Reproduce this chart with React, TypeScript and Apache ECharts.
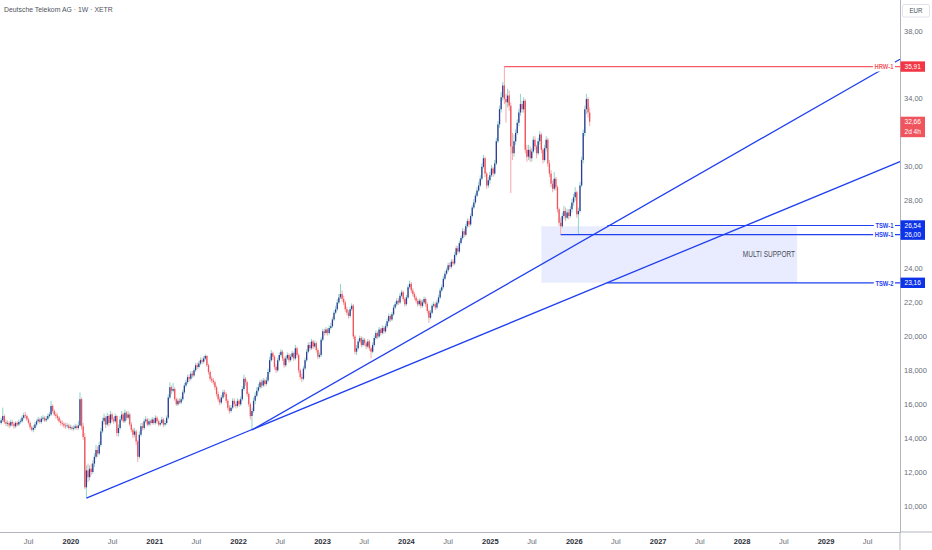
import React, { useEffect, useRef } from "react";
import * as echarts from "echarts";

const TITLE = "Deutsche Telekom AG · 1W · XETR";
const FIRST_WEEK = "2019-03-04";
const FIRST_OPEN = 14.9;

const closes = [
  15.05, 15.3, 14.95, 14.85, 14.9, 14.75, 14.95, 14.85, 14.7, 14.9,
  14.8, 14.95, 15.0, 15.2, 15.35, 15.3, 15.1, 14.9, 14.65, 14.5,
  14.6, 14.8, 15.0, 15.1, 14.95, 15.15, 15.2, 15.05, 15.15, 15.3,
  15.4, 15.9, 15.6, 15.4, 15.3, 15.2, 15.0, 14.9, 14.85, 14.75,
  14.7, 14.75, 14.6, 14.65, 14.55, 14.6, 14.7, 14.6, 14.75, 16.3,
  14.7, 14.07, 11.1, 12.1, 11.7, 12.2, 12.0, 12.5, 12.9, 13.3,
  13.1, 13.6, 14.4, 15.0, 15.2, 14.8, 15.3, 14.9, 15.4, 15.1,
  15.0, 15.3, 14.3, 14.6, 15.1, 15.4, 15.0, 15.5, 15.2, 15.4,
  14.8, 14.5, 14.2, 14.4, 13.8, 12.9, 14.2, 14.7, 14.6, 15.0,
  15.1, 14.8, 15.0, 14.9, 15.1, 14.9, 15.2, 15.0, 14.8, 14.9,
  15.1, 14.8, 14.9, 15.2, 16.4, 17.0, 16.8, 16.9, 16.3, 16.0,
  16.2, 16.1, 16.3, 16.7, 17.1, 17.3, 17.6, 17.5, 17.8, 17.7,
  18.0, 18.3, 18.2, 18.4, 18.6, 18.5, 18.7, 18.85, 18.3, 17.9,
  17.5, 17.4, 17.3, 17.0, 16.6, 16.3, 16.1, 16.4, 16.7, 16.6,
  16.2, 15.8, 15.6, 15.8, 16.2, 16.0, 15.9, 16.2, 16.0, 16.3,
  16.9, 17.5, 17.3, 16.6, 16.0, 15.3, 15.6, 16.2, 16.5, 16.8,
  17.0, 17.3, 17.1, 17.4, 17.2, 17.4, 17.9, 18.6, 19.0, 18.8,
  18.2, 18.0, 18.6, 18.9, 19.1, 18.7, 18.3, 18.7, 18.9, 18.6,
  18.8, 19.0, 18.7, 19.3, 18.9, 18.0, 17.6, 17.5, 18.1, 18.6,
  19.1, 19.5, 19.3, 19.7, 19.4, 19.6, 19.2, 18.8, 18.9, 19.8,
  20.3, 20.2, 20.4, 20.2, 20.5, 20.6, 21.0, 21.4, 21.6, 22.0,
  22.3, 22.5, 22.2, 22.0, 21.6, 21.4, 21.2, 21.6, 21.8, 20.0,
  19.1, 19.3, 19.7, 19.9, 19.5, 19.8, 19.6, 19.4, 19.7, 19.3,
  19.1, 19.5, 19.9, 20.2, 20.0, 20.4, 20.2, 20.5, 20.3, 20.6,
  20.9, 21.2, 21.0, 21.3, 21.7, 21.9, 22.1, 22.0, 22.4, 22.6,
  22.2, 21.9, 22.3, 22.9, 23.1, 22.7, 22.5, 22.3, 22.1, 21.9,
  22.1, 21.8, 22.0, 22.2, 21.9, 21.5, 21.1, 21.4, 21.8, 21.9,
  21.7, 22.0, 22.3, 22.7, 22.9, 23.4, 23.7, 23.9, 24.2, 24.1,
  24.4, 24.3, 24.8, 25.2, 25.0, 25.5, 25.8, 26.2, 26.0, 26.5,
  26.8, 26.6, 27.1, 27.6, 27.9, 28.3, 28.6, 28.9, 29.3, 30.0,
  30.5, 29.6, 28.9, 29.2, 29.5, 29.9, 29.6, 30.2, 31.5, 32.5,
  33.4, 34.1, 34.8, 34.0, 33.8, 34.2, 33.6, 31.2, 30.8, 31.5,
  32.0, 32.6, 33.2, 33.7, 33.4, 33.9, 31.0, 30.6, 31.0, 30.5,
  30.9, 31.6, 31.2, 30.8, 31.5, 31.9, 31.0, 30.4, 31.1, 31.6,
  30.2, 29.6, 29.0, 28.7, 29.3, 28.8, 27.5, 26.7, 26.5, 27.1,
  27.4, 27.0, 27.3, 27.1, 27.5, 27.9, 28.2, 28.5, 27.2, 27.4,
  28.9, 30.4, 32.0, 33.4, 34.0, 33.2, 32.66,
];

const highs = [
  15.2, 15.8, 15.4, 15.1, 15.05, 15.0, 15.1, 15.05, 14.95, 15.0,
  15.0, 15.1, 15.15, 15.35, 15.5, 15.55, 15.4, 15.2, 15.0, 14.75,
  14.75, 14.95, 15.1, 15.25, 15.2, 15.3, 15.35, 15.3, 15.3, 15.45,
  15.55, 16.2, 16.0, 15.7, 15.55, 15.45, 15.3, 15.1, 15.05, 14.95,
  14.9, 14.9, 14.85, 14.8, 14.75, 14.75, 14.85, 14.8, 15.0, 16.7,
  16.4, 14.9, 14.3, 12.4, 12.5, 12.4, 12.5, 12.7, 13.1, 13.6,
  13.5, 13.8, 14.6, 15.2, 15.45, 15.3, 15.5, 15.4, 15.6, 15.5,
  15.25, 15.45, 15.35, 14.8, 15.3, 15.6, 15.5, 15.7, 15.6, 15.6,
  15.5, 14.95, 14.6, 14.6, 14.5, 13.9, 14.4, 14.9, 14.9, 15.15,
  15.3, 15.2, 15.15, 15.1, 15.25, 15.2, 15.35, 15.3, 15.1, 15.05,
  15.25, 15.2, 15.05, 15.35, 16.6, 17.3, 17.1, 17.25, 17.0, 16.4,
  16.35, 16.35, 16.45, 16.85, 17.25, 17.45, 17.75, 17.75, 17.95, 17.95,
  18.15, 18.45, 18.45, 18.55, 18.75, 18.75, 18.85, 18.95, 18.9, 18.4,
  18.0, 17.65, 17.55, 17.4, 17.1, 16.75, 16.45, 16.55, 16.85, 16.85,
  16.7, 16.3, 15.95, 15.95, 16.35, 16.35, 16.15, 16.35, 16.3, 16.45,
  17.05, 17.75, 17.6, 17.4, 16.7, 16.1, 15.8, 16.4, 16.7, 17.0,
  17.2, 17.45, 17.45, 17.55, 17.5, 17.6, 18.1, 18.8, 19.2, 19.1,
  18.9, 18.35, 18.75, 19.05, 19.25, 19.2, 18.8, 18.85, 19.05, 19.0,
  18.95, 19.15, 19.1, 19.5, 19.4, 19.0, 18.1, 17.8, 18.25, 18.75,
  19.25, 19.65, 19.65, 19.85, 19.8, 19.75, 19.7, 19.3, 19.05, 19.95,
  20.45, 20.45, 20.55, 20.5, 20.65, 20.8, 21.15, 21.55, 21.8, 22.2,
  22.5, 23.1, 22.7, 22.4, 22.1, 21.75, 21.55, 21.75, 21.95, 21.9,
  20.1, 19.5, 19.85, 20.05, 20.0, 19.95, 19.9, 19.7, 19.85, 19.8,
  19.4, 19.65, 20.05, 20.35, 20.3, 20.55, 20.5, 20.65, 20.6, 20.75,
  21.05, 21.35, 21.3, 21.45, 21.85, 22.05, 22.25, 22.25, 22.55, 22.75,
  22.7, 22.3, 22.45, 23.05, 23.3, 23.2, 22.85, 22.6, 22.4, 22.2,
  22.25, 22.2, 22.15, 22.35, 22.3, 22.0, 21.6, 21.55, 21.95, 22.05,
  22.0, 22.15, 22.45, 22.85, 23.05, 23.55, 23.85, 24.05, 24.35, 24.35,
  24.55, 24.55, 24.95, 25.35, 25.35, 25.65, 25.95, 26.4, 26.35, 26.65,
  26.95, 26.95, 27.25, 27.75, 28.1, 28.45, 28.8, 29.1, 29.5, 30.2,
  30.7, 30.6, 29.7, 29.4, 29.7, 30.1, 30.0, 30.4, 31.7, 32.7,
  33.6, 34.4, 35.0, 35.91, 34.3, 34.6, 34.5, 33.8, 32.0, 31.9,
  32.2, 32.8, 33.4, 34.3, 33.9, 34.1, 34.0, 31.3, 31.3, 31.2,
  31.1, 31.8, 31.8, 31.3, 31.7, 32.1, 32.0, 31.1, 31.3, 31.8,
  31.7, 30.4, 29.8, 29.2, 29.7, 29.4, 28.9, 27.6, 27.0, 27.3,
  27.7, 27.6, 27.5, 27.5, 27.7, 28.1, 28.4, 28.8, 28.6, 27.6,
  29.1, 30.6, 32.2, 33.6, 34.3, 34.1, 33.5,
];

const lows = [
  14.8, 14.95, 14.85, 14.7, 14.7, 14.6, 14.65, 14.7, 14.55, 14.6,
  14.7, 14.7, 14.85, 14.9, 15.1, 15.15, 15.0, 14.8, 14.5, 14.4,
  14.35, 14.5, 14.7, 14.9, 14.85, 14.85, 15.0, 14.95, 14.95, 15.05,
  15.2, 15.3, 15.5, 15.3, 15.15, 15.05, 14.9, 14.75, 14.7, 14.6,
  14.55, 14.6, 14.5, 14.5, 14.45, 14.45, 14.5, 14.5, 14.5, 14.7,
  14.5, 13.9, 11.0, 10.47, 11.4, 11.5, 11.8, 11.9, 12.3, 12.8,
  12.9, 13.0, 13.5, 14.3, 14.8, 14.6, 14.7, 14.7, 14.8, 14.95,
  14.85, 14.9, 14.1, 14.1, 14.5, 15.0, 14.9, 14.9, 15.05, 15.1,
  14.7, 14.35, 14.0, 14.05, 13.6, 12.6, 12.8, 14.1, 14.45, 14.5,
  14.9, 14.7, 14.7, 14.75, 14.8, 14.8, 14.8, 14.85, 14.7, 14.7,
  14.8, 14.65, 14.7, 14.8, 15.1, 16.3, 16.6, 16.7, 16.2, 15.9,
  15.9, 16.0, 16.0, 16.2, 16.6, 17.0, 17.2, 17.35, 17.4, 17.55,
  17.6, 17.9, 18.05, 18.1, 18.3, 18.35, 18.4, 18.6, 18.2, 17.75,
  17.35, 17.25, 17.15, 16.85, 16.45, 16.15, 15.95, 16.0, 16.3, 16.45,
  16.05, 15.65, 15.45, 15.5, 15.7, 15.85, 15.75, 15.8, 15.85, 15.9,
  16.2, 16.8, 17.1, 16.45, 15.85, 15.1, 14.48, 15.5, 16.0, 16.4,
  16.7, 16.9, 16.95, 17.0, 17.05, 17.1, 17.3, 17.8, 18.5, 18.6,
  18.05, 17.85, 17.9, 18.5, 18.8, 18.55, 18.15, 18.2, 18.6, 18.45,
  18.5, 18.7, 18.55, 18.6, 18.75, 17.85, 17.45, 17.3, 17.4, 18.0,
  18.5, 19.0, 19.15, 19.2, 19.25, 19.3, 19.05, 18.65, 18.7, 18.8,
  19.7, 20.05, 20.1, 20.05, 20.1, 20.4, 20.5, 20.9, 21.3, 21.5,
  21.9, 22.2, 22.05, 21.85, 21.45, 21.25, 21.05, 21.1, 21.5, 19.85,
  18.95, 18.9, 19.2, 19.6, 19.35, 19.4, 19.45, 19.25, 19.3, 19.15,
  18.7, 19.0, 19.4, 19.8, 19.85, 19.9, 20.05, 20.1, 20.15, 20.2,
  20.5, 20.8, 20.85, 20.9, 21.2, 21.6, 21.8, 21.85, 21.9, 22.3,
  22.05, 21.75, 21.8, 22.2, 22.8, 22.55, 22.35, 22.15, 21.95, 21.75,
  21.8, 21.65, 21.7, 21.9, 21.75, 21.35, 20.8, 21.0, 21.3, 21.7,
  21.55, 21.6, 21.9, 22.2, 22.6, 22.8, 23.3, 23.6, 23.8, 23.95,
  24.0, 24.15, 24.2, 24.7, 24.85, 24.9, 25.4, 25.7, 25.85, 25.9,
  26.4, 26.45, 26.5, 27.0, 27.5, 27.8, 28.2, 28.5, 28.8, 29.2,
  29.9, 29.4, 28.7, 28.75, 29.0, 29.4, 29.4, 29.5, 30.1, 31.4,
  32.3, 33.2, 33.9, 33.7, 32.6, 33.5, 33.3, 28.45, 30.4, 30.6,
  31.3, 31.9, 32.4, 33.0, 33.2, 33.2, 30.8, 30.3, 30.4, 30.3,
  30.3, 30.8, 31.0, 30.5, 30.7, 31.3, 30.8, 30.2, 30.3, 30.9,
  30.0, 29.4, 28.8, 28.5, 28.6, 28.6, 27.3, 26.5, 26.0, 26.4,
  26.9, 26.8, 26.9, 26.9, 27.0, 27.3, 27.7, 28.0, 27.0, 26.0,
  27.3, 28.8, 30.2, 31.8, 33.1, 32.9, 32.4,
];

const X_START = "2019-02-27";
const X_END = "2029-11-19";
const Y_MIN = 8.467;
const Y_MAX = 39.835;
const yTickValues = [10, 12, 14, 16, 18, 20, 22, 24, 28, 30, 34, 38];
const xYears = [2020, 2021, 2022, 2023, 2024, 2025, 2026, 2027, 2028, 2029];
const xJulyYears = [2019, 2020, 2021, 2022, 2023, 2024, 2025, 2026, 2027, 2028, 2029];

const levelNames = ["HRW-1", "TSW-1", "HSW-1", "TSW-2"];
const levelValues = [35.91, 26.54, 26.0, 23.16];
const levelStarts = ["2025-03-03", "2026-05-25", "2025-11-03", "2026-05-25"];
const levelKinds = ["resistance", "support", "support", "support"];

const trendStarts: [string, number][] = [["2020-03-09", 10.47], ["2022-02-28", 14.48]];
const trendEnds: [string, number][] = [[X_END, 30.3], [X_END, 36.34]];

const zoneLabel = "MULTI SUPPORT";
const zoneFrom = "2025-08-11";
const zoneTo = "2028-08-28";
const zoneLow = 23.16;
const zoneHigh = 26.5;

const lastPrice = 32.66;
const countdown = "2d 4h";
const currency = "EUR";

const FONT = "'Liberation Sans', Roboto, sans-serif";
const NARROW = 0.78;
const UP_BODY = "#2f3c98";
const UP_WICK = "#8fd5c9";
const DOWN_BODY = "#f0535b";
const DOWN_WICK = "#f5a9ad";
const BLUE_LINE = "#1f3ff0";
const BLUE_TAG = "#0d33e8";
const RED_LINE = "#f45c64";
const RED_TAG = "#f23645";
const LAST_TAG = "#f0555d";
const AXIS = "#b2b5be";
const LABEL = "#6a6d78";

const decYear = (ms: number) => {
  const d = new Date(ms);
  const y = d.getUTCFullYear();
  const s = Date.UTC(y, 0, 1);
  const e = Date.UTC(y + 1, 0, 1);
  return y + (ms - s) / (e - s);
};
const dec = (s: string) => decYear(Date.parse(s + "T00:00:00Z"));
const fmt2 = (v: number) => v.toFixed(2).replace(".", ",");

export default function App() {
  const ref = useRef<HTMLDivElement>(null);

  useEffect(() => {
    document.body.style.margin = "0";
    const el = ref.current!;
    const chart = echarts.init(el, null, { renderer: "svg" });

    const startMs = Date.parse(FIRST_WEEK + "T00:00:00Z");
    const candles = closes.map((c, i) => {
      const o = i === 0 ? FIRST_OPEN : closes[i - 1];
      const t = decYear(startMs + i * 7 * 86400000);
      return [t, o, c, lows[i], highs[i]];
    });

    const xMin = dec(X_START);
    const xMax = dec(X_END);
    const xLabelValues: number[] = [];
    xJulyYears.forEach((y) => {
      const j = decYear(Date.UTC(y, 6, 1));
      if (j > xMin && j < xMax) xLabelValues.push(j);
      if (xYears.includes(y)) xLabelValues.push(y);
    });
    xLabelValues.sort((a, b) => a - b);

    const bodySpan = (7 * 0.82) / 365.25;

    const series: any[] = [
      {
        type: "custom",
        name: "candles",
        z: 2,
        clip: true,
        silent: true,
        data: candles,
        encode: { x: 0, y: [1, 2, 3, 4] },
        renderItem: (_p: any, api: any) => {
          const t = api.value(0);
          const o = api.value(1);
          const c = api.value(2);
          const l = api.value(3);
          const h = api.value(4);
          const up = c >= o;
          const pH = api.coord([t, h]);
          const pL = api.coord([t, l]);
          const pO = api.coord([t, o]);
          const pC = api.coord([t, c]);
          const bw = api.size([bodySpan, 0])[0];
          const top = Math.min(pO[1], pC[1]);
          const ht = Math.max(Math.abs(pO[1] - pC[1]), 0.8);
          return {
            type: "group",
            children: [
              {
                type: "line",
                shape: { x1: pH[0], y1: pH[1], x2: pL[0], y2: pL[1] },
                style: { stroke: up ? UP_WICK : DOWN_WICK, lineWidth: 1 },
              },
              {
                type: "rect",
                shape: { x: pO[0] - bw / 2, y: top, width: bw, height: ht },
                style: { fill: up ? UP_BODY : DOWN_BODY },
              },
            ],
          };
        },
      },
      {
        type: "line",
        name: "zone",
        silent: true,
        z: 3,
        data: [],
        symbol: "none",
        markArea: {
          silent: true,
          itemStyle: { color: "rgba(41, 72, 255, 0.1)" },
          data: [[{ xAxis: dec(zoneFrom), yAxis: zoneHigh }, { xAxis: dec(zoneTo), yAxis: zoneLow }]],
        },
      },
    ];

    trendStarts.forEach((s, k) => {
      series.push({
        type: "line",
        silent: true,
        z: 4,
        symbol: "none",
        lineStyle: { color: BLUE_LINE, width: 1.3 },
        data: [
          [dec(s[0]), s[1]],
          [dec(trendEnds[k][0]), trendEnds[k][1]],
        ],
      });
    });

    levelValues.forEach((v, k) => {
      series.push({
        type: "line",
        silent: true,
        z: 4,
        symbol: "none",
        lineStyle: { color: levelKinds[k] === "resistance" ? RED_LINE : BLUE_LINE, width: 1.2 },
        data: [
          [dec(levelStarts[k]), v],
          [xMax, v],
        ],
      });
    });

    const option: any = {
      animation: false,
      backgroundColor: "#ffffff",
      grid: { left: 0, right: 32, top: 0, bottom: 18 },
      xAxis: {
        type: "value",
        min: xMin,
        max: xMax,
        axisLine: { show: true, lineStyle: { color: AXIS, width: 1 } },
        axisTick: { show: false },
        splitLine: { show: false },
        axisLabel: {
          customValues: xLabelValues,
          margin: 5,
          fontFamily: FONT,
          fontSize: 7.5,
          formatter: (v: number) =>
            Math.abs(v - Math.round(v)) < 1e-6 ? `{y|${Math.round(v)}}` : "{m|Jul}",
          rich: {
            y: { color: "#2a2e39", fontWeight: "bold", fontSize: 7.5, fontFamily: FONT },
            m: { color: LABEL, fontSize: 7.5, fontFamily: FONT },
          },
        },
      },
      yAxis: {
        type: "value",
        position: "right",
        min: Y_MIN,
        max: Y_MAX,
        axisLine: { show: true, lineStyle: { color: AXIS, width: 1 } },
        axisTick: { show: false },
        splitLine: { show: false },
        axisLabel: {
          customValues: yTickValues,
          margin: 4,
          color: LABEL,
          fontSize: 7.5,
          fontFamily: FONT,
          formatter: (v: number) =>
            v >= 21 ? v.toFixed(2).replace(".", ",") : v.toFixed(3).replace(".", ","),
        },
      },
      series,
    };

    chart.setOption(option);

    const axisX = chart.convertToPixel({ xAxisIndex: 0 }, xMax) as number;
    const axisBottom = chart.convertToPixel({ yAxisIndex: 0 }, Y_MIN) as number;
    const py = (v: number) => chart.convertToPixel({ yAxisIndex: 0 }, v) as number;
    const px = (t: number) => chart.convertToPixel({ xAxisIndex: 0 }, t) as number;

    const elements: any[] = [];

    elements.push({
      type: "text",
      z: 20,
      x: 4,
      y: 9.6,
      scaleX: 0.86,
      style: {
        text: TITLE,
        fill: "#50535e",
        fontSize: 8,
        fontFamily: FONT,
        align: "left",
        verticalAlign: "middle",
      },
    });

    elements.push({
      type: "text",
      z: 20,
      x: px(dec(zoneTo)) - 2,
      y: py((zoneLow + zoneHigh) / 2),
      scaleX: NARROW * 0.93,
      style: {
        text: zoneLabel,
        fill: "#4a4d57",
        fontSize: 9,
        fontFamily: FONT,
        align: "right",
        verticalAlign: "middle",
      },
    });

    levelValues.forEach((v, k) => {
      const y = py(v);
      const red = levelKinds[k] === "resistance";
      elements.push({
        type: "text",
        z: 20,
        x: axisX - 5,
        y,
        scaleX: NARROW,
        style: {
          text: levelNames[k],
          fill: red ? RED_LINE : BLUE_LINE,
          fontSize: 7.5,
          fontWeight: "bold",
          fontFamily: FONT,
          align: "right",
          verticalAlign: "middle",
          backgroundColor: "#ffffff",
          padding: [1, 2],
        },
      });
      elements.push({
        type: "rect",
        z: 20,
        shape: { x: axisX + 0.5, y: y - 5.2, width: 24.5, height: 10.4 },
        style: { fill: red ? RED_TAG : BLUE_TAG },
      });
      elements.push({
        type: "text",
        z: 21,
        x: axisX + 12.7,
        y,
        scaleX: 0.88,
        style: {
          text: fmt2(v),
          fill: "#ffffff",
          fontSize: 7.5,
          fontFamily: FONT,
          align: "center",
          verticalAlign: "middle",
        },
      });
    });

    const yl = py(lastPrice);
    elements.push({
      type: "rect",
      z: 20,
      shape: { x: axisX + 0.5, y: yl - 5, width: 24.5, height: 20.5 },
      style: { fill: LAST_TAG },
    });
    elements.push({
      type: "text",
      z: 21,
      x: axisX + 12.7,
      y: yl,
      scaleX: 0.88,
      style: { text: fmt2(lastPrice), fill: "#ffffff", fontSize: 7.5, fontFamily: FONT, align: "center", verticalAlign: "middle" },
    });
    elements.push({
      type: "text",
      z: 21,
      x: axisX + 12.7,
      y: yl + 10,
      scaleX: 0.88,
      style: { text: countdown, fill: "#ffffff", fontSize: 7.5, fontFamily: FONT, align: "center", verticalAlign: "middle" },
    });

    elements.push({
      type: "rect",
      z: 20,
      shape: { x: axisX + 2.5, y: 4.5, width: 27, height: 12.5, r: 2 },
      style: { fill: "#ffffff", stroke: "#e0e3eb", lineWidth: 1 },
    });
    elements.push({
      type: "text",
      z: 21,
      x: axisX + 16,
      y: 10.8,
      scaleX: 0.88,
      style: { text: currency, fill: "#4a4d57", fontSize: 7, fontFamily: FONT, align: "center", verticalAlign: "middle" },
    });
    elements.push({
      type: "line",
      z: 10,
      shape: { x1: axisX, y1: axisBottom, x2: 932, y2: axisBottom },
      style: { stroke: AXIS, lineWidth: 1 },
    });
    elements.push({
      type: "line",
      z: 10,
      shape: { x1: axisX, y1: axisBottom, x2: axisX, y2: 550 },
      style: { stroke: AXIS, lineWidth: 1 },
    });

    chart.setOption({ graphic: { elements } });

    return () => chart.dispose();
  }, []);

  return <div ref={ref} style={{ width: 932, height: 550 }} />;
}
